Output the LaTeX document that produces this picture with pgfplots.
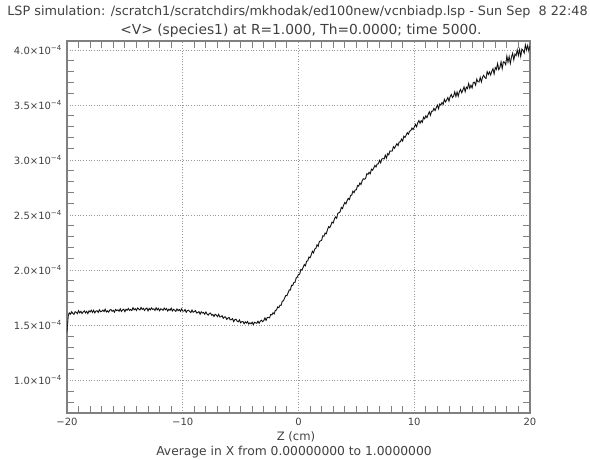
\documentclass[border=0pt]{standalone}
\usepackage{fontspec}
\setmainfont{DejaVu Sans}
\usepackage{pgfplots}
\usepackage{pgfplotstable}
\pgfplotsset{compat=1.18}
\definecolor{txt}{gray}{0.25}
\definecolor{framec}{gray}{0.5}
\definecolor{gridc}{gray}{0.6}

% <V> in units of 1e-4
\pgfplotstableread{
z v
-20.0 1.430
-19.9 1.580
-19.8 1.610
-19.7 1.598
-19.6 1.620
-19.5 1.606
-19.4 1.596
-19.3 1.620
-19.2 1.615
-19.1 1.603
-19.0 1.630
-18.9 1.610
-18.8 1.623
-18.7 1.604
-18.6 1.618
-18.5 1.628
-18.4 1.609
-18.3 1.623
-18.2 1.603
-18.1 1.628
-18.0 1.618
-17.9 1.634
-17.8 1.614
-17.7 1.633
-17.6 1.610
-17.5 1.626
-17.4 1.629
-17.3 1.614
-17.2 1.638
-17.1 1.620
-17.0 1.624
-16.9 1.635
-16.8 1.622
-16.7 1.643
-16.6 1.618
-16.5 1.628
-16.4 1.616
-16.3 1.636
-16.2 1.640
-16.1 1.624
-16.0 1.633
-15.9 1.616
-15.8 1.641
-15.7 1.630
-15.6 1.637
-15.5 1.625
-15.4 1.646
-15.3 1.623
-15.2 1.636
-15.1 1.643
-15.0 1.621
-14.9 1.642
-14.8 1.634
-14.7 1.650
-14.6 1.632
-14.5 1.641
-14.4 1.631
-14.3 1.657
-14.2 1.638
-14.1 1.648
-14.0 1.632
-13.9 1.654
-13.8 1.644
-13.7 1.636
-13.6 1.659
-13.5 1.641
-13.4 1.651
-13.3 1.632
-13.2 1.647
-13.1 1.654
-13.0 1.628
-12.9 1.650
-12.8 1.637
-12.7 1.655
-12.6 1.641
-12.5 1.646
-12.4 1.632
-12.3 1.656
-12.2 1.637
-12.1 1.651
-12.0 1.629
-11.9 1.647
-11.8 1.642
-11.7 1.633
-11.6 1.653
-11.5 1.638
-11.4 1.649
-11.3 1.626
-11.2 1.643
-11.1 1.633
-11.0 1.653
-10.9 1.627
-10.8 1.642
-10.7 1.635
-10.6 1.623
-10.5 1.645
-10.4 1.630
-10.3 1.641
-10.2 1.624
-10.1 1.647
-10.0 1.625
-9.9 1.625
-9.8 1.640
-9.7 1.615
-9.6 1.631
-9.5 1.634
-9.4 1.623
-9.3 1.613
-9.2 1.636
-9.1 1.616
-9.0 1.621
-8.9 1.631
-8.8 1.608
-8.7 1.613
-8.6 1.621
-8.5 1.598
-8.4 1.620
-8.3 1.609
-8.2 1.613
-8.1 1.597
-8.0 1.618
-7.9 1.599
-7.8 1.589
-7.7 1.605
-7.6 1.608
-7.5 1.588
-7.4 1.595
-7.3 1.577
-7.2 1.597
-7.1 1.590
-7.0 1.576
-6.9 1.597
-6.8 1.573
-6.7 1.575
-6.6 1.584
-6.5 1.560
-6.4 1.572
-6.3 1.572
-6.2 1.550
-6.1 1.561
-6.0 1.569
-5.9 1.546
-5.8 1.548
-5.7 1.558
-5.6 1.530
-5.5 1.549
-5.4 1.552
-5.3 1.535
-5.2 1.528
-5.1 1.546
-5.0 1.520
-4.9 1.530
-4.8 1.531
-4.7 1.511
-4.6 1.528
-4.5 1.517
-4.4 1.531
-4.3 1.508
-4.2 1.519
-4.1 1.511
-4.0 1.525
-3.9 1.502
-3.8 1.525
-3.7 1.519
-3.6 1.515
-3.5 1.534
-3.4 1.515
-3.3 1.534
-3.2 1.543
-3.1 1.530
-3.0 1.540
-2.9 1.564
-2.8 1.542
-2.7 1.567
-2.6 1.569
-2.5 1.565
-2.4 1.596
-2.3 1.591
-2.2 1.611
-2.1 1.600
-2.0 1.633
-1.9 1.635
-1.8 1.664
-1.7 1.657
-1.6 1.679
-1.5 1.678
-1.4 1.716
-1.3 1.719
-1.2 1.745
-1.1 1.768
-1.0 1.766
-0.9 1.792
-0.8 1.818
-0.7 1.818
-0.6 1.861
-0.5 1.859
-0.4 1.886
-0.3 1.888
-0.2 1.927
-0.1 1.935
0.0 1.960
0.1 1.960
0.2 2.004
0.3 1.998
0.4 2.023
0.5 2.049
0.6 2.037
0.7 2.079
0.8 2.083
0.9 2.117
1.0 2.110
1.1 2.137
1.2 2.170
1.3 2.154
1.4 2.190
1.5 2.195
1.6 2.228
1.7 2.214
1.8 2.258
1.9 2.264
2.0 2.269
2.1 2.310
2.2 2.306
2.3 2.335
2.4 2.328
2.5 2.364
2.6 2.393
2.7 2.384
2.8 2.406
2.9 2.435
3.0 2.427
3.1 2.462
3.2 2.482
3.3 2.469
3.4 2.516
3.5 2.519
3.6 2.529
3.7 2.568
3.8 2.557
3.9 2.589
4.0 2.613
4.1 2.600
4.2 2.630
4.3 2.650
4.4 2.639
4.5 2.677
4.6 2.680
4.7 2.716
4.8 2.702
4.9 2.727
5.0 2.728
5.1 2.767
5.2 2.761
5.3 2.790
5.4 2.776
5.5 2.809
5.6 2.828
5.7 2.824
5.8 2.831
5.9 2.874
6.0 2.868
6.1 2.887
6.2 2.874
6.3 2.915
6.4 2.906
6.5 2.926
6.6 2.950
6.7 2.936
6.8 2.963
6.9 2.963
7.0 2.996
7.1 2.973
7.2 3.008
7.3 3.012
7.4 3.008
7.5 3.043
7.6 3.016
7.7 3.057
7.8 3.046
7.9 3.081
8.0 3.079
8.1 3.081
8.2 3.120
8.3 3.106
8.4 3.128
8.5 3.147
8.6 3.130
8.7 3.163
8.8 3.163
8.9 3.189
9.0 3.171
9.1 3.215
9.2 3.204
9.3 3.224
9.4 3.247
9.5 3.233
9.6 3.261
9.7 3.265
9.8 3.289
9.9 3.275
10.0 3.296
10.1 3.323
10.2 3.300
10.3 3.336
10.4 3.357
10.5 3.333
10.6 3.356
10.7 3.341
10.8 3.388
10.9 3.373
11.0 3.400
11.1 3.384
11.2 3.412
11.3 3.437
11.4 3.405
11.5 3.443
11.6 3.442
11.7 3.468
11.8 3.448
11.9 3.474
12.0 3.498
12.1 3.464
12.2 3.508
12.3 3.498
12.4 3.521
12.5 3.504
12.6 3.550
12.7 3.526
12.8 3.544
12.9 3.566
13.0 3.534
13.1 3.574
13.2 3.594
13.3 3.566
13.4 3.580
13.5 3.618
13.6 3.576
13.7 3.616
13.8 3.578
13.9 3.620
14.0 3.640
14.1 3.610
14.2 3.634
14.3 3.662
14.4 3.620
14.5 3.660
14.6 3.648
14.7 3.694
14.8 3.650
14.9 3.678
15.0 3.654
15.1 3.703
15.2 3.706
15.3 3.679
15.4 3.734
15.5 3.709
15.6 3.708
15.7 3.749
15.8 3.708
15.9 3.751
16.0 3.768
16.1 3.747
16.2 3.740
16.3 3.801
16.4 3.776
16.5 3.799
16.6 3.772
16.7 3.805
16.8 3.828
16.9 3.781
17.0 3.838
17.1 3.822
17.2 3.875
17.3 3.820
17.4 3.840
17.5 3.890
17.6 3.829
17.7 3.891
17.8 3.887
17.9 3.865
18.0 3.942
18.1 3.889
18.2 3.938
18.3 3.876
18.4 3.934
18.5 3.968
18.6 3.909
18.7 3.961
18.8 3.947
18.9 3.999
19.0 3.949
19.1 4.003
19.2 3.940
19.3 4.006
19.4 3.994
19.5 3.970
19.6 4.045
19.7 3.997
19.8 4.039
19.9 3.988
20.0 4.039
}\datatable

\begin{document}
\begin{tikzpicture}
\path[use as bounding box] (-67pt,-46pt) rectangle (523pt,413pt);
\begin{axis}[
  at={(0pt,0pt)}, anchor=south west,
  scale only axis, width=463pt, height=372pt,
  xmin=-20, xmax=20, ymin=0.7, ymax=4.08,
  xtick={-20,-10,0,10,20},
  xticklabels={−20,−10,0,10,20},
  ytick={1,1.5,2,2.5,3,3.5,4},
  yticklabels={1.0×10\textsuperscript{−4},1.5×10\textsuperscript{−4},2.0×10\textsuperscript{−4},2.5×10\textsuperscript{−4},3.0×10\textsuperscript{−4},3.5×10\textsuperscript{−4},4.0×10\textsuperscript{−4}},
  minor xtick={-19,-18,-17,-16,-15,-14,-13,-12,-11,-9,-8,-7,-6,-5,-4,-3,-2,-1,1,2,3,4,5,6,7,8,9,11,12,13,14,15,16,17,18,19},
  minor ytick={0.8,0.9,1.1,1.2,1.3,1.4,1.6,1.7,1.8,1.9,2.1,2.2,2.3,2.4,2.6,2.7,2.8,2.9,3.1,3.2,3.3,3.4,3.6,3.7,3.8,3.9},
  major tick length=0pt, minor tick length=7pt,
  grid=major,
  major grid style={gridc, line width=0.6pt, dash pattern=on 0.7pt off 2pt},
  axis line style={framec, line width=1.1pt},
  minor tick style={framec, line width=0.9pt},
  tick label style={font=\fontsize{10}{12}\selectfont, text=txt},
  xticklabel style={anchor=base, yshift=-12.6pt},
  yticklabel style={anchor=east, inner sep=0pt, xshift=-5pt},
]
\addplot[black!40, line width=1.1pt] table[x=z, y=v] {\datatable};
\addplot[black, line width=0.6pt] table[x=z, y=v] {\datatable};
\end{axis}
\node[anchor=base, text=txt, font=\fontsize{12.8}{14}\selectfont] at (230.5pt,397pt) {LSP simulation: /scratch1/scratchdirs/mkhodak/ed100new/vcnbiadp.lsp - Sun Sep\ \ 8 22:48};
\node[anchor=base, text=txt, font=\fontsize{13.8}{15}\selectfont] at (234pt,378pt) {<V> (species1) at R=1.000, Th=0.0000; time 5000.};
\node[anchor=base, text=txt, font=\fontsize{11.6}{13}\selectfont] at (229pt,-27pt) {Z (cm)};
\node[anchor=base, text=txt, font=\fontsize{12.3}{14}\selectfont] at (227pt,-42.5pt) {Average in X from 0.00000000 to 1.0000000};
\end{tikzpicture}
\end{document}
